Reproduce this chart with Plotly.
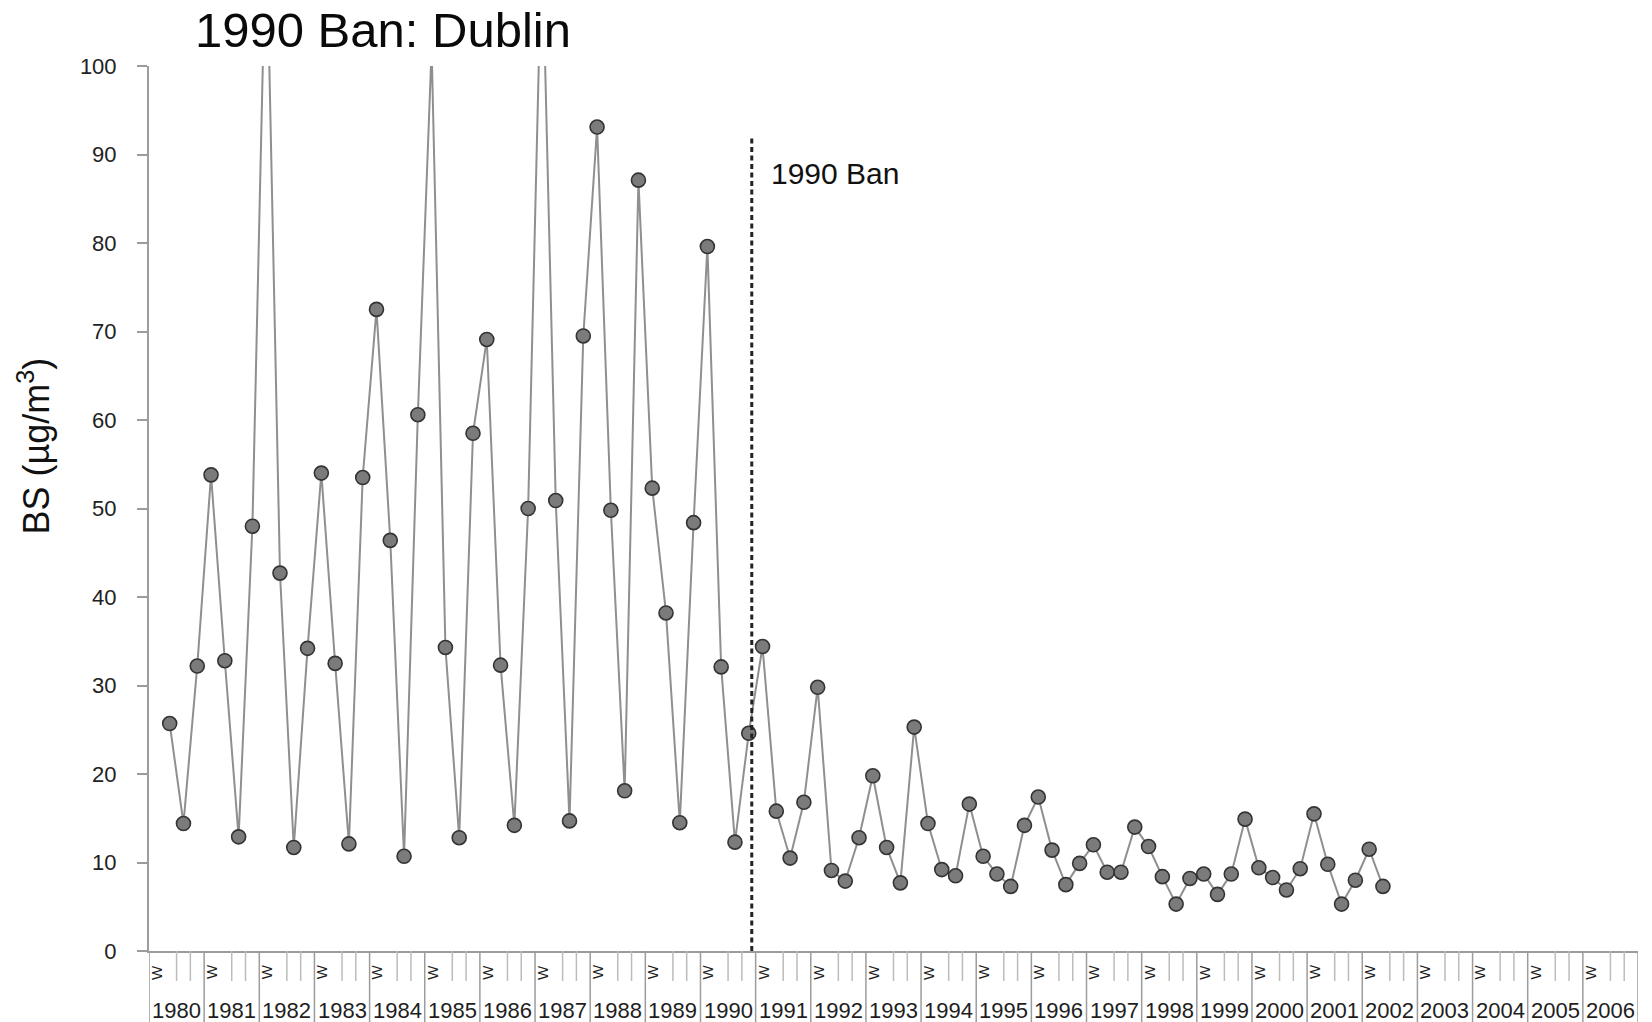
import plotly.graph_objects as go

# Category axis: one slot per quarter, grouped by year
years = list(range(1980, 2007))
season_labels = ["W", "", "", ""]          # only the winter quarter is labelled
first_season = 1                           # series begins in the spring quarter of 1980

# Quarterly black smoke (BS) concentration, µg/m³, from spring 1980 to spring 2002
bs_ugm3 = [
    25.7, 14.4, 32.2,
    53.8, 32.8, 12.9, 48.0,     # 1981
    117.0, 42.7, 11.7, 34.2,    # 1982
    54.0, 32.5, 12.1, 53.5,     # 1983
    72.5, 46.4, 10.7, 60.6,     # 1984
    102.0, 34.3, 12.8, 58.5,    # 1985
    69.1, 32.3, 14.2, 50.0,     # 1986
    115.0, 50.9, 14.7, 69.5,    # 1987
    93.1, 49.8, 18.1, 87.1,     # 1988
    52.3, 38.2, 14.5, 48.4,     # 1989
    79.6, 32.1, 12.3, 24.6,     # 1990
    34.4, 15.8, 10.5, 16.8,     # 1991
    29.8, 9.1, 7.9, 12.8,       # 1992
    19.8, 11.7, 7.7, 25.3,      # 1993
    14.4, 9.2, 8.5, 16.6,       # 1994
    10.7, 8.7, 7.3, 14.2,       # 1995
    17.4, 11.4, 7.5, 9.9,       # 1996
    12.0, 8.9, 8.9, 14.0,       # 1997
    11.8, 8.4, 5.3, 8.2,        # 1998
    8.7, 6.4, 8.7, 14.9,        # 1999
    9.4, 8.3, 6.9, 9.3,         # 2000
    15.5, 9.8, 5.3, 8.0,        # 2001
    11.5, 7.3,                  # 2002
]

y_ticks = list(range(0, 101, 10))

ban_quarter = 43.72      # quarters after the start of 1980
ban_top = 92.0
ban_label = "1990 Ban"
chart_title = "1990 Ban: Dublin"
y_title = "BS (µg/m<sup>3</sup>)"

FONT = "Liberation Sans, Arial, Helvetica, sans-serif"
AXIS_GREY = "#9c9c9c"
n_quarters = len(years) * 4

# plot-area geometry in pixels, used to turn pixel offsets into paper units
MARGIN = dict(l=149, r=14, t=66, b=71)
PLOT_H = 1022 - MARGIN["t"] - MARGIN["b"]
PLOT_W = 1652 - MARGIN["l"] - MARGIN["r"]


def below(px):
    """paper y for a point px pixels under the x axis"""
    return -px / PLOT_H


x_pos = [first_season + i + 0.5 for i in range(len(bs_ugm3))]

fig = go.Figure()
fig.add_trace(go.Scatter(
    x=x_pos,
    y=bs_ugm3,
    mode="lines+markers",
    line=dict(color="#8f8f8f", width=2),
    marker=dict(size=14, color="#7b7b7b", line=dict(color="#333333", width=1.6)),
    cliponaxis=True,
    hoverinfo="x+y",
))

shapes = []
annotations = []

# year separators run through both label rows; quarter dividers only through the season row
for k, yr in enumerate(years):
    shapes.append(dict(type="line", xref="x", yref="paper",
                       x0=4 * k, x1=4 * k, y0=0, y1=below(71),
                       line=dict(color=AXIS_GREY, width=1.5)))
    for q in (2, 3):
        shapes.append(dict(type="line", xref="x", yref="paper",
                           x0=4 * k + q, x1=4 * k + q, y0=0, y1=below(30),
                           line=dict(color="#bcbcbc", width=1.5)))
    annotations.append(dict(text=str(yr), xref="x", yref="paper",
                            x=4 * k + 2, y=below(59), showarrow=False,
                            xanchor="center", yanchor="middle",
                            font=dict(family=FONT, size=22, color="#1e1e1e")))
    for q, lab in enumerate(season_labels):
        if lab:
            annotations.append(dict(text=lab, xref="x", yref="paper",
                                    x=4 * k + q + 0.5, y=below(21), textangle=-90,
                                    showarrow=False, xanchor="center", yanchor="middle",
                                    font=dict(family=FONT, size=15, color="#1e1e1e")))

shapes.append(dict(type="line", xref="x", yref="paper",
                   x0=n_quarters, x1=n_quarters, y0=0, y1=below(71),
                   line=dict(color=AXIS_GREY, width=1.5)))

# the ban marker
shapes.append(dict(type="line", xref="x", yref="y",
                   x0=ban_quarter, x1=ban_quarter, y0=0, y1=ban_top,
                   line=dict(color="#222222", width=3, dash="5px,3.5px")))
annotations.append(dict(text=ban_label, xref="x", yref="y",
                        x=ban_quarter, y=87.8, xshift=17, showarrow=False,
                        xanchor="left", yanchor="middle",
                        font=dict(family=FONT, size=30, color="#111111")))

# chart title and y-axis title
annotations.append(dict(text=chart_title, xref="paper", yref="paper",
                        x=(193 - MARGIN["l"]) / PLOT_W, y=1 + 36 / PLOT_H,
                        showarrow=False, xanchor="left", yanchor="middle",
                        font=dict(family=FONT, size=49, color="#0a0a0a")))
annotations.append(dict(text=y_title, xref="paper", yref="paper",
                        x=(33.5 - MARGIN["l"]) / PLOT_W, y=(951 - 446) / PLOT_H,
                        textangle=-90, showarrow=False,
                        xanchor="center", yanchor="middle",
                        font=dict(family=FONT, size=36, color="#111111")))

fig.update_layout(
    width=1652, height=1022,
    margin=MARGIN,
    paper_bgcolor="white", plot_bgcolor="white",
    showlegend=False,
    shapes=shapes,
    annotations=annotations,
    xaxis=dict(range=[0, n_quarters], showline=True, linecolor=AXIS_GREY, linewidth=2,
               showgrid=False, zeroline=False, showticklabels=False, ticks="",
               fixedrange=True),
    yaxis=dict(range=[0, 100], tickvals=y_ticks, ticks="outside", ticklen=10,
               tickwidth=1.5, tickcolor=AXIS_GREY, showline=True, linecolor=AXIS_GREY,
               linewidth=2, showgrid=False, zeroline=False, ticklabelstandoff=16,
               tickfont=dict(family=FONT, size=22, color="#222222"), fixedrange=True),
)

fig.write_html("out.html")
